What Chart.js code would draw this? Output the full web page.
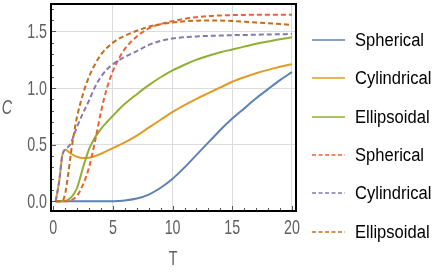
<!DOCTYPE html>
<html>
<head>
<meta charset="utf-8">
<script src="https://cdn.jsdelivr.net/npm/chart.js@4.4.1/dist/chart.umd.min.js"></script>
<style>
  html, body { margin: 0; padding: 0; background: #fff; }
  #wrap { position: relative; width: 436px; height: 273px; }
  #legend { position: absolute; left: 0; top: 0; width: 436px; height: 273px; pointer-events: none;
            font-family: "Liberation Sans", Arial, sans-serif; font-size: 18px; color: #000; }
  .item { position: absolute; left: 312px; height: 22px; display: flex; align-items: center; white-space: nowrap; }
  .item svg { margin-right: 10px; }
  .item span { display: inline-block; transform: scaleX(0.92); transform-origin: left center; }
</style>
</head>
<body>
<div id="wrap">
  <canvas id="chart" width="436" height="273"></canvas>
  <div id="legend"></div>
</div>
<script>
// time grid shared by all curves
const T = [0.2, 0.5, 0.75, 1, 1.25, 1.5, 1.75, 2, 2.5, 3, 3.5, 4, 4.5, 5, 5.5, 6, 7, 8, 9, 10, 11, 12, 13, 14, 15, 16, 17, 18, 19, 20];

// solid curves
const sphericalA   = [0, 0, 0, 0, 0, 0, 0, 0, 0, 0, 0, 0, 0, 0, 0.003, 0.008, 0.025, 0.06, 0.12, 0.2, 0.3, 0.41, 0.52, 0.63, 0.73, 0.82, 0.91, 0.99, 1.07, 1.14];
const cylindricalA = [0, 0.18, 0.40, 0.455, 0.44, 0.42, 0.405, 0.392, 0.382, 0.385, 0.40, 0.42, 0.445, 0.47, 0.495, 0.52, 0.58, 0.65, 0.72, 0.79, 0.85, 0.905, 0.955, 1.005, 1.055, 1.095, 1.13, 1.16, 1.187, 1.21];
const ellipsoidalA = [0, 0, 0, 0.004, 0.015, 0.035, 0.07, 0.12, 0.3, 0.46, 0.565, 0.64, 0.70, 0.755, 0.81, 0.86, 0.945, 1.025, 1.095, 1.155, 1.205, 1.25, 1.285, 1.315, 1.34, 1.365, 1.39, 1.41, 1.43, 1.447];

// dashed curves
const sphericalB   = [0, 0, 0, 0, 0.002, 0.01, 0.025, 0.05, 0.15, 0.3, 0.53, 0.79, 1.0, 1.15, 1.26, 1.345, 1.455, 1.525, 1.565, 1.59, 1.61, 1.625, 1.635, 1.64, 1.643, 1.645, 1.646, 1.646, 1.646, 1.646];
const cylindricalB = [0, 0.18, 0.40, 0.46, 0.48, 0.52, 0.59, 0.66, 0.78, 0.89, 1.01, 1.1, 1.165, 1.21, 1.245, 1.275, 1.325, 1.38, 1.415, 1.437, 1.448, 1.455, 1.46, 1.463, 1.466, 1.468, 1.47, 1.472, 1.474, 1.476];
const ellipsoidalB = [0, 0, 0, 0.07, 0.24, 0.44, 0.61, 0.75, 0.95, 1.1, 1.21, 1.295, 1.355, 1.4, 1.435, 1.462, 1.505, 1.54, 1.563, 1.578, 1.588, 1.594, 1.596, 1.595, 1.591, 1.585, 1.578, 1.571, 1.564, 1.557];

const seriesLabels = ['Spherical', 'Cylindrical', 'Ellipsoidal', 'Spherical', 'Cylindrical', 'Ellipsoidal'];
const seriesValues = [sphericalA, cylindricalA, ellipsoidalA, sphericalB, cylindricalB, ellipsoidalB];
const seriesDashed = [false, false, false, true, true, true];
const colors = ['#5e81b5', '#e19c24', '#8fb032', '#eb6235', '#8778b3', '#c56e1a'];

const xTicks = [0, 5, 10, 15, 20];
const yTicks = [0, 0.5, 1.0, 1.5];
const xTickLabels = ['0', '5', '10', '15', '20'];
const yTickLabels = ['0.0', '0.5', '1.0', '1.5'];

// the reference uses tall, narrow lettering for the axes
function narrowText(ctx, text, x, y, align, italic) {
  ctx.save();
  ctx.translate(x, y);
  ctx.scale(0.68, 1);
  ctx.font = (italic ? 'italic ' : '') + '21px "Liberation Sans", Arial, sans-serif';
  ctx.textAlign = align;
  ctx.textBaseline = 'middle';
  ctx.fillText(text, 0, 0);
  ctx.restore();
}

// black frame, small inner ticks, tick labels and axis titles
const framePlugin = {
  id: 'frame',
  afterDatasetsDraw(chart) {
    const { ctx, chartArea: a, scales: { x, y } } = chart;
    ctx.save();
    ctx.strokeStyle = '#555';
    ctx.lineWidth = 1;
    for (let v = 0; v <= 20; v++) {
      const px = Math.round(x.getPixelForValue(v)) + 0.5;
      const len = v % 5 === 0 ? 5 : 3;
      ctx.beginPath(); ctx.moveTo(px, a.bottom); ctx.lineTo(px, a.bottom - len); ctx.stroke();
    }
    for (let k = 0; k <= 17; k++) {
      const py = Math.round(y.getPixelForValue(k / 10)) + 0.5;
      const len = k % 5 === 0 ? 5 : 3;
      ctx.beginPath(); ctx.moveTo(a.left, py); ctx.lineTo(a.left + len, py); ctx.stroke();
    }
    ctx.strokeStyle = '#000';
    ctx.lineWidth = 2;
    ctx.strokeRect(a.left, a.top, a.right - a.left, a.bottom - a.top);

    ctx.fillStyle = '#606060';
    xTicks.forEach((v, i) => narrowText(ctx, xTickLabels[i], x.getPixelForValue(v), 228, 'center'));
    yTicks.forEach((v, i) => narrowText(ctx, yTickLabels[i], 47, y.getPixelForValue(v) + 1, 'right'));
    narrowText(ctx, 'C', 7, 108, 'center', true);
    narrowText(ctx, 'T', 173, 259.5, 'center');
    ctx.restore();
  }
};

const datasets = seriesValues.map((vals, i) => ({
  label: seriesLabels[i],
  data: T.map((t, j) => ({ x: t, y: vals[j] })),
  borderColor: colors[i],
  borderWidth: 2,
  borderDash: seriesDashed[i] ? [5, 3] : [],
  pointRadius: 0,
  fill: false,
  cubicInterpolationMode: 'monotone',
  order: seriesValues.length - i
}));

const hideZero = c => (c.tick && c.tick.value === 0) ? 'rgba(0,0,0,0)' : '#dcdcdc';

new Chart(document.getElementById('chart'), {
  type: 'line',
  data: { datasets },
  options: {
    responsive: false,
    animation: false,
    devicePixelRatio: 1,
    layout: { padding: { top: 4, right: 140, left: 0, bottom: 0 } },
    plugins: { legend: { display: false }, tooltip: { enabled: false } },
    scales: {
      x: {
        type: 'linear',
        min: -0.19,
        max: 20.34,
        afterBuildTicks: s => { s.ticks = xTicks.map(v => ({ value: v })); },
        afterFit: s => { s.height = 62; },
        border: { display: false },
        grid: { color: hideZero, lineWidth: 1, drawTicks: false },
        ticks: { display: false }
      },
      y: {
        type: 'linear',
        min: -0.085,
        max: 1.741,
        afterBuildTicks: s => { s.ticks = yTicks.map(v => ({ value: v })); },
        afterFit: s => { s.width = 51; },
        border: { display: false },
        grid: { color: hideZero, lineWidth: 1, drawTicks: false },
        ticks: { display: false }
      }
    }
  },
  plugins: [framePlugin]
});

// legend as real text on the right
const legendEl = document.getElementById('legend');
const legendY = [40, 78, 117, 155, 193, 232];
seriesLabels.forEach((name, i) => {
  const item = document.createElement('div');
  item.className = 'item';
  item.style.top = (legendY[i] - 11) + 'px';
  const dash = seriesDashed[i] ? 'stroke-dasharray="4 2.5"' : '';
  item.innerHTML = '<svg width="33" height="4"><line x1="0" y1="2" x2="33" y2="2" stroke="' + colors[i] +
    '" stroke-width="' + (seriesDashed[i] ? 1.3 : 1.6) + '" ' + dash + '/></svg><span>' + name + '</span>';
  legendEl.appendChild(item);
});
</script>
</body>
</html>
